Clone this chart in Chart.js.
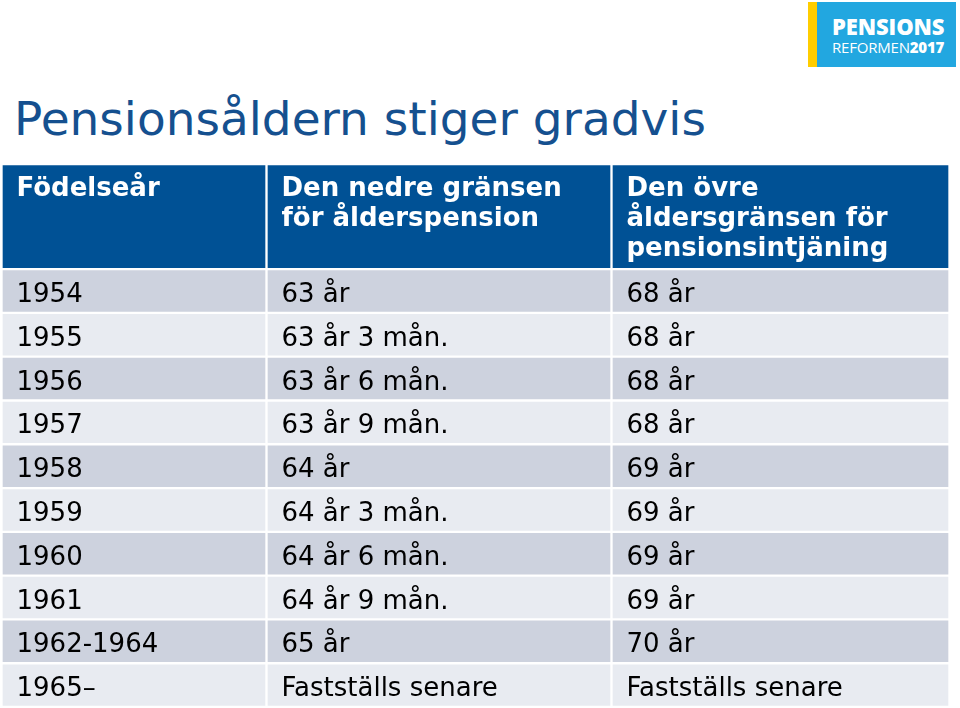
<!DOCTYPE html>
<html>
<head>
<meta charset="utf-8">
<script src="https://cdn.jsdelivr.net/npm/chart.js@4/dist/chart.umd.min.js"></script>
<style>
  body { margin: 0; width: 960px; height: 708px; background: #fff; position: relative; overflow: hidden; font-family: "DejaVu Sans", Verdana, sans-serif; }
  #title { position: absolute; left: 14px; top: 95px; font-size: 47px; line-height: 47px; color: #15508f; white-space: nowrap; }
  #logo-bar { position: absolute; left: 808px; top: 2px; width: 9px; height: 65px; background: #ffcd00; }
  #logo { position: absolute; left: 817px; top: 2px; width: 139px; height: 65px; background: #22a7e0; color: #fff; font-family: "Open Sans", sans-serif; }
  #logo .big { position: absolute; left: 15px; top: 11px; font-size: 22px; line-height: 26px; font-weight: 800; letter-spacing: -0.1px; }
  #logo .small { position: absolute; left: 15px; top: 36px; font-size: 15px; line-height: 18px; letter-spacing: -0.2px; }
  #logo .small b { font-weight: 800; }
  #wrap { position: absolute; left: 0; top: 164px; width: 960px; height: 543px; }
</style>
</head>
<body>
<div id="title">Pensionsåldern stiger gradvis</div>
<div id="logo-bar"></div>
<div id="logo"><div class="big">PENSIONS</div><div class="small">REFORMEN<b>2017</b></div></div>
<div id="wrap"><canvas id="tableChart"></canvas></div>

<script>
// table contents
const headers = [
    ["Födelseår"],
    ["Den nedre gränsen", "för ålderspension"],
    ["Den övre", "åldersgränsen för", "pensionsintjäning"]
];
const birthYears = ["1954", "1955", "1956", "1957", "1958", "1959", "1960", "1961", "1962-1964", "1965–"];
const lowerLimit = ["63 år", "63 år 3 mån.", "63 år 6 mån.", "63 år 9 mån.", "64 år", "64 år 3 mån.", "64 år 6 mån.", "64 år 9 mån.", "65 år", "Fastställs senare"];
const upperLimit = ["68 år", "68 år", "68 år", "68 år", "69 år", "69 år", "69 år", "69 år", "70 år", "Fastställs senare"];

// layout (pixels for columns, row units for the header)
const colEdges = [1.5, 266.5, 611.5, 949.5];
const headerUnits = 2.4;
const headerColor = "#005195";
const rowColors = ["#cdd2de", "#e8ebf1"];

const columns = [birthYears, lowerLimit, upperLimit];

const datasets = columns.map((values, j) => {
    const center = (colEdges[j] + colEdges[j + 1]) / 2;
    const data = [{ x: center, y: [0, headerUnits] }];
    const colors = [headerColor];
    values.forEach((v, i) => {
        data.push({ x: center, y: [headerUnits + i, headerUnits + i + 1] });
        colors.push(rowColors[i % 2]);
    });
    return {
        label: headers[j].join(" "),
        data: data,
        backgroundColor: colors,
        borderColor: "#ffffff",
        borderWidth: 1.5,
        borderSkipped: false,
        barThickness: colEdges[j + 1] - colEdges[j],
        grouped: false
    };
});

// writes the cell texts inside each bar
const cellText = {
    id: "cellText",
    afterDatasetsDraw(chart) {
        const ctx = chart.ctx;
        ctx.save();
        ctx.textAlign = "left";
        ctx.textBaseline = "alphabetic";
        chart.data.datasets.forEach((ds, j) => {
            chart.getDatasetMeta(j).data.forEach((bar, i) => {
                const left = bar.x - bar.width / 2 + 15;
                const top = Math.min(bar.y, bar.base);
                const bottom = Math.max(bar.y, bar.base);
                if (i === 0) {
                    ctx.font = 'bold 26px "DejaVu Sans"';
                    ctx.fillStyle = "#ffffff";
                    headers[j].forEach((line, k) => {
                        ctx.fillText(line, left, top + 32 + k * 30);
                    });
                } else {
                    ctx.font = '26px "DejaVu Sans"';
                    ctx.fillStyle = "#000000";
                    ctx.fillText(columns[j][i - 1], left, (top + bottom) / 2 + 11);
                }
            });
        });
        ctx.restore();
    }
};

const ctx = document.getElementById("tableChart").getContext("2d");
new Chart(ctx, {
    type: "bar",
    data: { datasets: datasets },
    options: {
        responsive: true,
        maintainAspectRatio: false,
        animation: false,
        layout: { padding: 0 },
        scales: {
            x: { type: "linear", min: 0, max: 960, offset: false, display: false },
            y: { type: "linear", min: 0, max: headerUnits + birthYears.length, reverse: true, display: false }
        },
        plugins: {
            legend: { display: false },
            tooltip: { enabled: false }
        }
    },
    plugins: [cellText]
});
</script>
</body>
</html>
